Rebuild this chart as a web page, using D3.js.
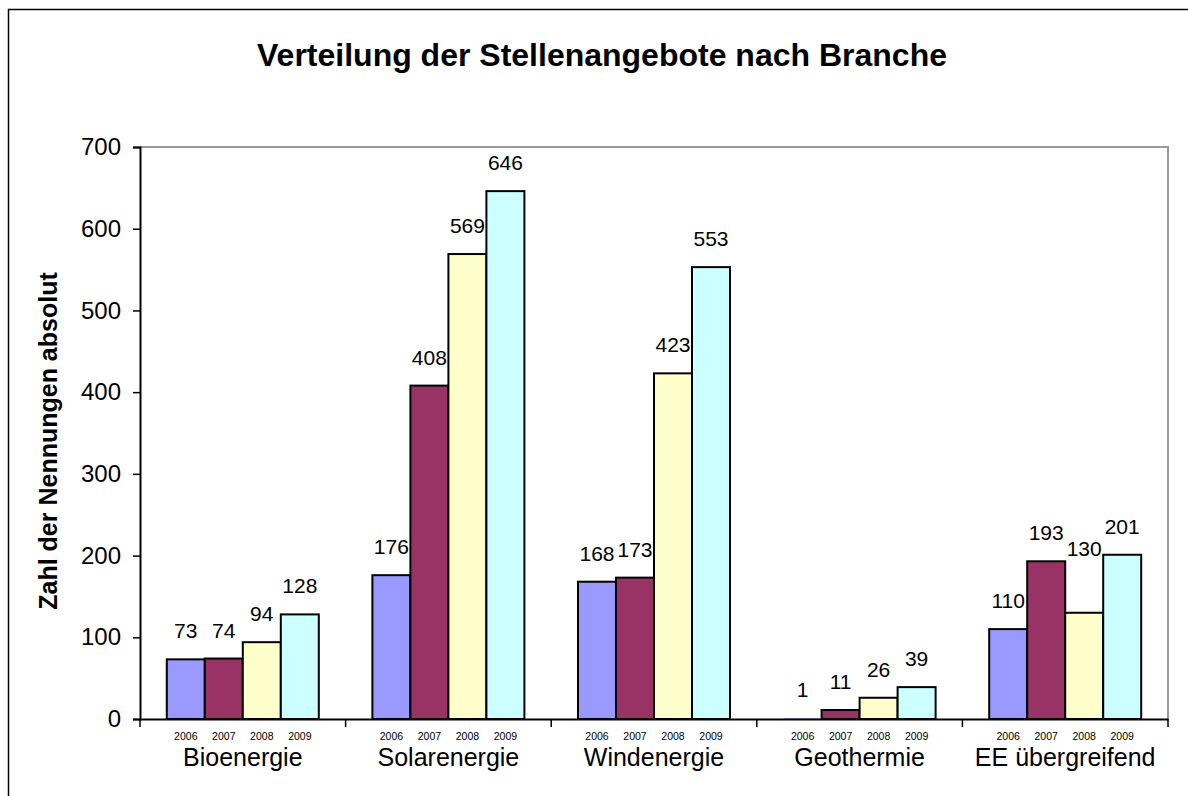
<!DOCTYPE html>
<html><head><meta charset="utf-8">
<script src="https://cdn.jsdelivr.net/npm/d3@7"></script>
<style>body{margin:0;background:#fff;}svg{display:block;font-family:Arial,"Liberation Sans",sans-serif;}</style>
</head><body><svg id="c" width="1188" height="796"></svg>
<script>
const categories = ["Bioenergie","Solarenergie","Windenergie","Geothermie","EE übergreifend"];
const years = ["2006","2007","2008","2009"];
const v2006 = [73,176,168,1,110];
const v2007 = [74,408,173,11,193];
const v2008 = [94,569,423,26,130];
const v2009 = [128,646,553,39,201];
const yTicks = [0,100,200,300,400,500,600,700];
const colors = ["#9999FF","#993366","#FFFFCC","#CCFFFF"];

const series = [v2006,v2007,v2008,v2009];
const svg = d3.select("#c");
svg.append("rect").attr("x",8.5).attr("y",9.5).attr("width",1200).attr("height",800)
  .attr("fill","#fff").attr("stroke","#000").attr("stroke-width",1.5);

const L=140,R=1168,T=147,B=719;
const x0 = d3.scaleBand().domain(categories).range([L,R]).paddingInner(0).paddingOuter(0);
const x1 = d3.scaleBand().domain(years).range([0,x0.bandwidth()]).paddingInner(0).paddingOuter(0.705);
const y = d3.scaleLinear().domain([0,700]).range([B,T]);

svg.append("text").attr("x",602).attr("y",66).attr("text-anchor","middle")
  .attr("font-size",32).attr("font-weight","bold").text("Verteilung der Stellenangebote nach Branche");

// plot frame
svg.append("path").attr("d",`M${L},${T}H${R}V${B}`).attr("fill","none").attr("stroke","#999").attr("stroke-width",2);

const g = svg.append("g");
categories.forEach((c,i)=>{
  years.forEach((yr,j)=>{
    const v = series[j][i];
    const bx = x0(c)+x1(yr);
    const h = B-y(v);
    g.append("rect").attr("x",bx).attr("y",y(v)).attr("width",x1.bandwidth()).attr("height",h)
      .attr("fill",colors[j]).attr("stroke",h<2?"none":"#000").attr("stroke-width",2);
    let dy = (c==="EE übergreifend" && yr==="2008") ? -57 : -21;
    g.append("text").attr("x",bx+x1.bandwidth()/2).attr("y",y(v)+dy).attr("text-anchor","middle")
      .attr("font-size",21).text(v);
    g.append("text").attr("x",bx+x1.bandwidth()/2).attr("y",740).attr("text-anchor","middle")
      .attr("font-size",10.5).text(yr);
  });
  svg.append("text").attr("x",x0(c)+x0.bandwidth()/2).attr("y",766).attr("text-anchor","middle")
    .attr("font-size",25).text(c);
});

// axes
const ya = d3.axisLeft(y).tickValues(yTicks).tickSize(7).tickPadding(12).tickFormat(d3.format("d"));
const yg = svg.append("g").attr("transform",`translate(${L},0)`).call(ya);
yg.selectAll("text").attr("font-size",24).attr("font-family","Arial,'Liberation Sans',sans-serif").attr("fill","#000");
yg.select(".domain").attr("stroke","#000").attr("stroke-width",2);
yg.selectAll(".tick line").attr("stroke","#000").attr("stroke-width",1.5);

const xa = d3.axisBottom(x0).tickValues([]).tickSizeOuter(0);
const xg = svg.append("g").attr("transform",`translate(0,${B})`).call(xa);
xg.select(".domain").attr("stroke","#000").attr("stroke-width",2);
const bounds = categories.map(c=>x0(c)).concat([x0(categories[categories.length-1])+x0.bandwidth()]);
xg.selectAll("line.sep").data(bounds).enter().append("line").attr("class","sep")
  .attr("x1",d=>d).attr("x2",d=>d).attr("y1",0).attr("y2",8).attr("stroke","#000").attr("stroke-width",1.5);

svg.append("text").attr("transform","translate(57,441) rotate(-90)").attr("text-anchor","middle")
  .attr("font-size",25).attr("font-weight","bold").text("Zahl der Nennungen absolut");
</script></body></html>
